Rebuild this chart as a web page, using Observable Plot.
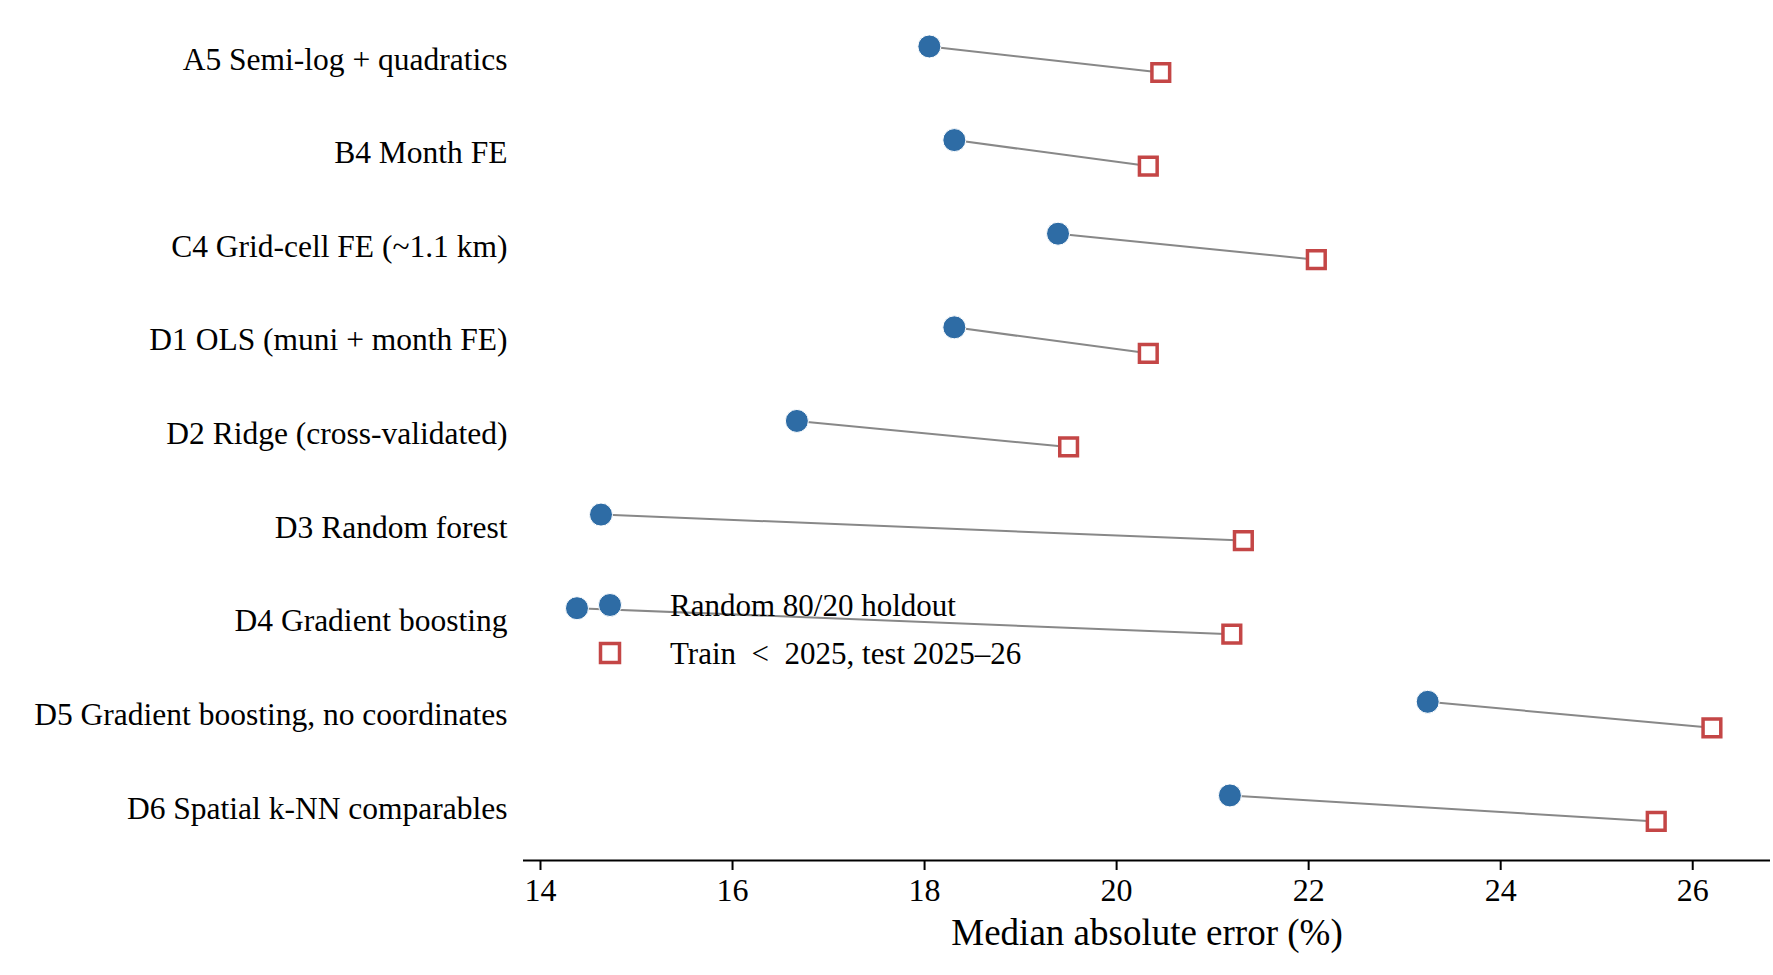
<!DOCTYPE html>
<html><head><meta charset="utf-8">
<script src="https://cdn.jsdelivr.net/npm/d3@7"></script>
<script src="https://cdn.jsdelivr.net/npm/@observablehq/plot@0.6"></script>
<style>body{margin:0;background:#fff;font-family:"Liberation Serif",serif}#wrap{position:relative;width:1773px;height:975px}
.leg{position:absolute;left:670px;font-size:31px;line-height:1;white-space:pre;}
</style></head><body><div id="wrap"></div>
<script>
const models = ["A5 Semi-log + quadratics","B4 Month FE","C4 Grid-cell FE (~1.1 km)","D1 OLS (muni + month FE)","D2 Ridge (cross-validated)","D3 Random forest","D4 Gradient boosting","D5 Gradient boosting, no coordinates","D6 Spatial k-NN comparables"];
const randomHoldout = [18.05,18.31,19.39,18.31,16.67,14.63,14.38,23.24,21.18];
const temporalHoldout = [20.46,20.33,22.08,20.33,19.50,21.32,21.20,26.20,25.62];
const xTicks = [14,16,18,20,22,24,26];
const off = 0.139;
const data = models.map((m,i)=>({i, m, r:randomHoldout[i], t:temporalHoldout[i]}));
const plot = Plot.plot({
  width:1773, height:975, marginLeft:523, marginRight:3, marginTop:0, marginBottom:115,
  style:{fontFamily:"Liberation Serif, serif", background:"#fff"},
  x:{domain:[13.823,26.81], ticks:xTicks},
  y:{domain:[-0.630,8.556], reverse:true},
  marks:[
    Plot.link(data,{x1:"r",y1:d=>d.i-off,x2:"t",y2:d=>d.i+off,stroke:"#888",strokeWidth:2}),
    Plot.dot(data,{x:"r",y:d=>d.i-off,r:11.5,fill:"#2e6ca5",stroke:"white",strokeWidth:1}),
    Plot.dot(data,{x:"t",y:d=>d.i+off,symbol:"square",r:10,fill:"white",stroke:"#c44646",strokeWidth:3.5}),
    Plot.ruleY([8.556],{stroke:"black",strokeWidth:2}),
    Plot.axisX({ticks:xTicks,tickSize:10,fontSize:32,tickPadding:8,label:null,stroke:"black",strokeWidth:2}),
    Plot.text(["Median absolute error (%)"],{frameAnchor:"bottom",dy:84,fontSize:37,fill:"black"}),
    Plot.axisY({ticks:d3.range(models.length),tickSize:0,tickPadding:16,fontSize:31.5,tickFormat:i=>models[i],label:null,fill:"black"})
  ]
});
const wrap=document.getElementById("wrap");
wrap.appendChild(plot);
wrap.insertAdjacentHTML("beforeend",
 `<svg style="position:absolute;left:590px;top:585px" width="40" height="90">
   <circle cx="20" cy="20" r="11.5" fill="#2e6ca5" stroke="white"/>
   <rect x="10.5" y="58.5" width="19" height="19" fill="white" stroke="#c44646" stroke-width="3.5"/></svg>
  <div class="leg" style="top:590px">Random 80/20 holdout</div>
  <div class="leg" style="top:638px">Train  &lt;  2025, test 2025–26</div>`);
</script></body></html>
